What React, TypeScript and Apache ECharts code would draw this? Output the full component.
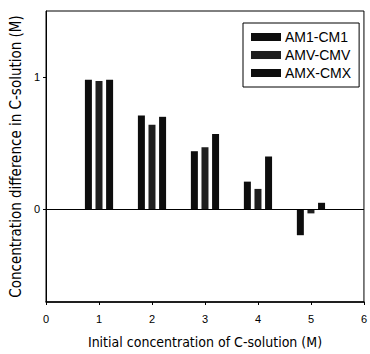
import React, { useEffect, useRef } from "react";
import * as echarts from "echarts";

const groups = [1, 2, 3, 4, 5];
const offsets = [-0.2, 0, 0.2];
const seriesNames = ["AM1-CM1", "AMV-CMV", "AMX-CMX"];
const am1cm1 = [0.98, 0.71, 0.44, 0.21, -0.195];
const amvcmv = [0.97, 0.64, 0.47, 0.155, -0.03];
const amxcmx = [0.98, 0.7, 0.57, 0.4, 0.05];
const xTicks = [0, 1, 2, 3, 4, 5, 6];
const yTicks = [0, 1];
const barColors = ["#0d0d0d", "#1f1f1f", "#0d0d0d"];

const titleFont = "'DejaVu Sans Condensed', 'Liberation Sans', sans-serif";

export default function App() {
  const ref = useRef<HTMLDivElement>(null);
  useEffect(() => {
    if (!ref.current) return;
    const chart = echarts.init(ref.current, null, { renderer: "svg" });
    const allValues = [am1cm1, amvcmv, amxcmx];
    const series: any[] = allValues.map((vals, si) => ({
      name: seriesNames[si],
      type: "bar",
      barWidth: 7,
      barGap: "-100%",
      itemStyle: { color: barColors[si] },
      data: vals.map((v, i) => [groups[i] + offsets[si], v]),
      ...(si === 0
        ? {
            markLine: {
              silent: true,
              symbol: "none",
              label: { show: false },
              lineStyle: { color: "#000", width: 1, type: "solid" },
              data: [{ yAxis: 0 }],
            },
          }
        : {}),
    }));
    chart.setOption({
      animation: false,
      backgroundColor: "#fff",
      grid: {
        left: 43,
        right: 2,
        top: 11,
        bottom: 48,
        show: true,
        borderColor: "#000",
        borderWidth: 1,
      },
      legend: {
        orient: "vertical",
        left: 243,
        top: 23,
        padding: [7, 8, 7, 8],
        itemGap: 4,
        itemWidth: 30,
        itemHeight: 8,
        icon: "rect",
        borderColor: "#000",
        borderWidth: 1,
        textStyle: { fontFamily: "Liberation Sans", fontSize: 14, color: "#000", padding: [0, 0, 0, -1] },
        data: seriesNames,
      },
      xAxis: {
        type: "value",
        min: 0,
        max: 6,
        interval: 1,
        name: "Initial concentration of C-solution (M)",
        nameLocation: "middle",
        nameGap: 33,
        nameTextStyle: { fontFamily: titleFont, fontSize: 14, color: "#000" },
        axisLine: { onZero: false, lineStyle: { color: "#000", width: 1.5 } },
        axisTick: { show: true, length: 3, lineStyle: { color: "#000" } },
        axisLabel: {
          color: "#000",
          fontFamily: "Liberation Sans",
          fontSize: 11,
          margin: 11,
          formatter: (v: number) => (xTicks.includes(v) ? String(v) : ""),
        },
        splitLine: { show: false },
      },
      yAxis: {
        type: "value",
        min: -0.7,
        max: 1.5,
        name: "Concentration difference in C-solution (M)",
        nameLocation: "middle",
        nameGap: 22,
        nameTextStyle: { fontFamily: titleFont, fontSize: 15, color: "#000" },
        axisLine: { lineStyle: { color: "#000", width: 1 } },
        axisTick: { show: true, length: 3, customValues: yTicks, lineStyle: { color: "#000" } },
        axisLabel: {
          color: "#000",
          fontFamily: "Liberation Sans",
          fontSize: 11,
          margin: 6,
          customValues: yTicks,
        },
        splitLine: { show: false },
      },
      series,
    });
    return () => chart.dispose();
  }, []);
  return <div ref={ref} style={{ width: 370, height: 354, position: "absolute", left: 0, top: 0 }} />;
}
